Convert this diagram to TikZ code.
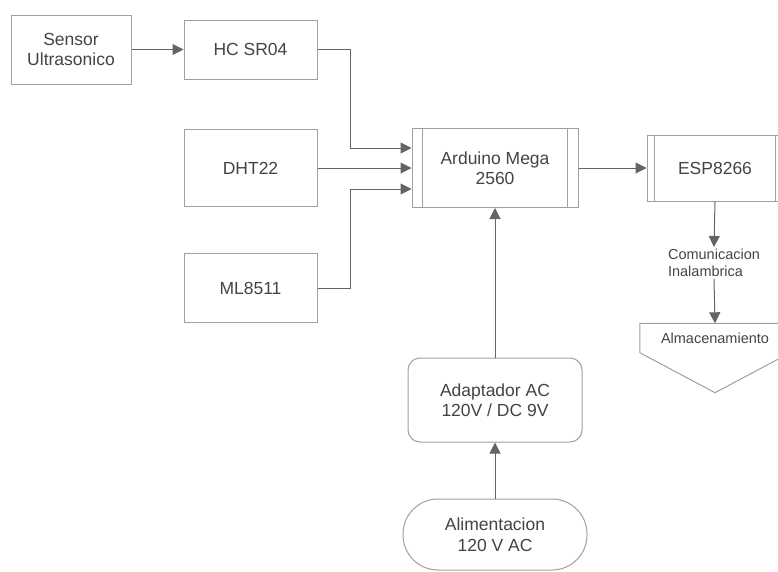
\documentclass[tikz,border=0pt]{standalone}
\usepackage{fontspec}
\setmainfont{Liberation Sans}
\definecolor{boxline}{RGB}{160,160,160}
\definecolor{wireline}{RGB}{100,100,100}
\definecolor{labeltext}{RGB}{68,68,68}
\usetikzlibrary{calc, positioning, arrows.meta}

\begin{document}
\begin{tikzpicture}[x=1pt, y=-1pt,
    blk/.style={draw=boxline, line width=1pt, fill=white, text=labeltext,
      align=center, inner sep=2pt, font=\fontsize{17.5}{20.5}\selectfont},
    wire/.style={draw=wireline, line width=1pt,
      -{Triangle[length=11pt, width=11pt]}},
    small/.style={text=labeltext, font=\fontsize{14.5}{17}\selectfont},
  ]
    \useasboundingbox (0,0) rectangle (778,571);

    % sensores
    \node[blk, minimum width=120pt, minimum height=69pt] (sensor) at (71,49.5) {Sensor\\Ultrasonico};
    \node[blk, minimum width=133pt, minimum height=59pt] (hc) at (250.5,49.5) {HC SR04};
    \node[blk, minimum width=133pt, minimum height=77pt] (dht) at (250.5,168) {DHT22};
    \node[blk, minimum width=133pt, minimum height=69pt] (ml) at (250.5,288) {ML8511};

    % controladores
    \node[blk, minimum width=166pt, minimum height=79pt] (ard) at (495,168) {Arduino Mega\\2560};
    \draw[boxline, line width=1pt] ([xshift=11pt]ard.north west) -- ([xshift=11pt]ard.south west)
      ([xshift=-11pt]ard.north east) -- ([xshift=-11pt]ard.south east);
    \node[blk, minimum width=136pt, minimum height=66pt] (esp) at (715,168) {ESP8266};
    \draw[boxline, line width=1pt] ([xshift=8pt]esp.north west) -- ([xshift=8pt]esp.south west)
      ([xshift=-8pt]esp.north east) -- ([xshift=-8pt]esp.south east);

    % almacenamiento
    \node[small, align=left, inner sep=2pt] (comm) at (714,263) {Comunicacion\\Inalambrica};
    \node[small, minimum width=150pt, minimum height=29pt, inner sep=0pt] (store) at (715,338) {Almacenamiento};
    \draw[boxline, line width=1pt] (store.north west) -- (store.north east) -- (store.south east)
      -- ($(store.south)+(0,40)$) -- (store.south west) -- cycle;

    % alimentacion
    \node[blk, rounded corners=12pt, minimum width=174pt, minimum height=84pt] (ac) at (495,400) {Adaptador AC\\120V / DC 9V};
    \node[blk, rounded corners=35pt, minimum width=184pt, minimum height=71pt] (mains) at (495,534.5) {Alimentacion\\120 V AC};

    % conexiones
    \draw[wire] (sensor.east) -- (sensor.east -| hc.west);
    \draw[wire] (hc.east) -- ++(33,0) |- ([yshift=20pt]ard.west);
    \draw[wire] (dht.east) -- (ard.west);
    \draw[wire] (ml.east) -- ++(33,0) |- ([yshift=-21pt]ard.west);
    \draw[wire] (ard.east) -- (esp.west);
    \draw[wire] (esp.south) -- (comm.north);
    \draw[wire] (comm.south) -- (store.north);
    \draw[wire] (mains.north) -- (ac.south);
    \draw[wire] (ac.north) -- (ard.south);
  \end{tikzpicture}
\end{document}
